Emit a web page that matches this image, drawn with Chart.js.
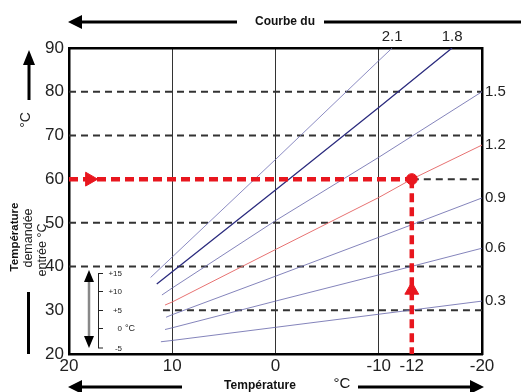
<!DOCTYPE html>
<html>
<head>
<meta charset="utf-8">
<script src="https://cdn.jsdelivr.net/npm/chart.js@4.4.1/dist/chart.umd.min.js"></script>
<style>
  html, body { margin: 0; padding: 0; background: #fff; }
  #wrap { width: 521px; height: 392px; }
</style>
</head>
<body>
<div id="wrap"><canvas id="chart" width="521" height="392"></canvas></div>
<script>
// outdoor temperature axis (reversed: 20 on the left, -20 on the right)
const xTicks = [20, 10, 0, -10, -13.2, -20];
const xTickLabels = ['20', '10', '0', '-10', '-12', '-20'];
const yTicks = [20, 30, 40, 50, 60, 70, 80, 90];

// heating curves: [outdoor temp, flow temp]
const curve21 = [[12.1, 37.5], [10, 42.2], [0, 64.5], [-10, 87.1], [-11.3, 90]];
const curve18 = [[11.5, 36.0], [10, 38.8], [0, 57.5], [-10, 76.4], [-17.1, 90]];
const curve15 = [[11.0, 33.5], [10, 35.1], [0, 50.5], [-10, 65.0], [-20, 80.0]];
const curve12 = [[10.7, 31.2], [10, 31.9], [0, 43.9], [-10, 55.8], [-13.2, 60], [-20, 67.8]];
const curve09 = [[10.6, 28.4], [10, 29.0], [0, 37.8], [-10, 46.7], [-20, 55.7]];
const curve06 = [[10.7, 25.6], [10, 26.0], [0, 32.1], [-10, 38.1], [-20, 44.2]];
const curve03 = [[11.1, 22.8], [10, 23.1], [0, 26.1], [-10, 29.1], [-20, 32.1]];

// curve labels on the right edge and on the top edge
const rightLabels = ['1.5', '1.2', '0.9', '0.6', '0.3'];
const rightValues = [80.0, 67.8, 55.7, 44.2, 32.1];
const topLabels = ['2.1', '1.8'];
const topValues = [-11.3, -17.1];

// example reading: outdoor -12 °C -> flow 60 °C
const markX = -13.2;
const markY = 60;
const fullDashed = [80, 70, 50, 40];

const pts = a => a.map(p => ({ x: p[0], y: p[1] }));
const FONT = "'Liberation Sans', Arial, Helvetica, sans-serif";

function curve(data, color, width) {
  return { data: pts(data), borderColor: color, borderWidth: width, showLine: true, pointRadius: 0, order: 5 };
}
function dashed(data) {
  return { data: pts(data), borderColor: '#333', borderWidth: 2, borderDash: [7, 5], showLine: true, pointRadius: 0, order: 6 };
}

const datasets = [
  // red example reading
  { data: pts([[20, markY], [markX, markY]]), borderColor: '#e8161e', borderWidth: 4.5, borderDash: [9, 5], showLine: true, pointRadius: 0, order: 1 },
  { data: pts([[markX, markY], [markX, 20]]), borderColor: '#e8161e', borderWidth: 4.5, borderDash: [9, 5], showLine: true, pointRadius: 0, order: 1 },
  { data: pts([[markX, markY]]), backgroundColor: '#e8161e', borderColor: '#e8161e', pointRadius: 5.5, order: 0 },
  { data: pts([[18, markY]]), pointStyle: 'triangle', rotation: 90, backgroundColor: '#e8161e', borderColor: '#e8161e', pointRadius: 8, order: 0 },
  { data: pts([[markX, 34.6]]), pointStyle: 'triangle', rotation: 0, backgroundColor: '#e8161e', borderColor: '#e8161e', pointRadius: 8, order: 0 },
  // curves
  curve(curve21, 'rgba(120,120,185,0.85)', 1),
  curve(curve18, '#2b2b7e', 1.3),
  curve(curve15, 'rgba(110,110,175,0.85)', 1),
  curve(curve12, '#e77272', 1),
  curve(curve09, 'rgba(110,110,175,0.85)', 1),
  curve(curve06, 'rgba(110,110,175,0.85)', 1),
  curve(curve03, 'rgba(110,110,175,0.85)', 1),
  // black dashed reference lines
  ...fullDashed.map(v => dashed([[20, v], [-20, v]])),
  dashed([[10.9, 30], [-20, 30]]),
  dashed([[markX, markY], [-20, markY]]),
];

function arrow(ctx, x1, y1, x2, y2, len, half, color, w) {
  const a = Math.atan2(y2 - y1, x2 - x1);
  ctx.strokeStyle = color;
  ctx.lineWidth = w;
  ctx.beginPath();
  ctx.moveTo(x1, y1);
  ctx.lineTo(x2 - Math.cos(a) * len * 0.8, y2 - Math.sin(a) * len * 0.8);
  ctx.stroke();
  ctx.fillStyle = color;
  ctx.beginPath();
  ctx.moveTo(x2, y2);
  ctx.lineTo(x2 - Math.cos(a) * len - Math.sin(a) * half, y2 - Math.sin(a) * len + Math.cos(a) * half);
  ctx.lineTo(x2 - Math.cos(a) * len + Math.sin(a) * half, y2 - Math.sin(a) * len - Math.cos(a) * half);
  ctx.closePath();
  ctx.fill();
}

function vText(ctx, text, x, y, font) {
  ctx.save();
  ctx.translate(x, y);
  ctx.rotate(-Math.PI / 2);
  ctx.font = font;
  ctx.textAlign = 'center';
  ctx.textBaseline = 'middle';
  ctx.fillText(text, 0, 0);
  ctx.restore();
}

const decorations = {
  id: 'decorations',
  afterDraw(chart) {
    const ctx = chart.ctx;
    ctx.save();
    // header
    arrow(ctx, 237, 22, 68, 22, 14, 7, '#000', 3);
    ctx.fillStyle = '#111';
    ctx.font = 'bold 12px ' + FONT;
    ctx.textAlign = 'center';
    ctx.textBaseline = 'middle';
    ctx.fillText('Courbe du', 285, 22);
    ctx.strokeStyle = '#000';
    ctx.lineWidth = 3;
    ctx.beginPath();
    ctx.moveTo(324, 22);
    ctx.lineTo(521, 22);
    ctx.stroke();

    // left side
    arrow(ctx, 29, 100, 29, 50, 15, 6, '#000', 3);
    ctx.fillStyle = '#222';
    vText(ctx, '°C', 26, 120, '14px ' + FONT);
    ctx.fillStyle = '#111';
    vText(ctx, 'Température', 15, 237, 'bold 11.5px ' + FONT);
    ctx.fillStyle = '#222';
    vText(ctx, 'demandée', 29, 238, '12.5px ' + FONT);
    vText(ctx, 'entrée °C', 43, 250, '12.5px ' + FONT);
    ctx.fillStyle = '#000';
    ctx.fillRect(27, 292, 3, 62);

    // bottom
    arrow(ctx, 182, 387, 68, 387, 14, 7, '#000', 3);
    arrow(ctx, 358, 387, 484, 387, 14, 7, '#000', 3);
    ctx.fillStyle = '#111';
    ctx.font = 'bold 12px ' + FONT;
    ctx.textAlign = 'center';
    ctx.textBaseline = 'middle';
    ctx.fillText('Température', 260, 386);
    ctx.font = '15px ' + FONT;
    ctx.fillText('°C', 342, 384);

    // inset offset scale
    ctx.strokeStyle = '#888';
    ctx.lineWidth = 2.5;
    ctx.beginPath();
    ctx.moveTo(89, 278);
    ctx.lineTo(89, 340);
    ctx.stroke();
    ctx.fillStyle = '#000';
    ctx.beginPath();
    ctx.moveTo(89, 270); ctx.lineTo(84, 282); ctx.lineTo(94, 282); ctx.closePath(); ctx.fill();
    ctx.beginPath();
    ctx.moveTo(89, 348); ctx.lineTo(84, 336); ctx.lineTo(94, 336); ctx.closePath(); ctx.fill();
    ctx.strokeStyle = '#222';
    ctx.lineWidth = 1;
    ctx.beginPath();
    ctx.moveTo(98.5, 273); ctx.lineTo(98.5, 348);
    const insetY = [273, 291, 310, 328, 347.5];
    const insetL = ['+15', '+10', '+5', '0', '-5'];
    insetY.forEach(y => { ctx.moveTo(98, y + 0.5); ctx.lineTo(103, y + 0.5); });
    ctx.stroke();
    ctx.fillStyle = '#222';
    ctx.font = '8px ' + FONT;
    ctx.textAlign = 'right';
    ctx.textBaseline = 'middle';
    insetY.forEach((y, i) => ctx.fillText(insetL[i], 122, y + 1));
    ctx.textAlign = 'left';
    ctx.font = '9px ' + FONT;
    ctx.fillText('°C', 125, 329);
    ctx.restore();
  },
};

const fixedTicks = values => scale => { scale.ticks = values.map(v => ({ value: v })); };

new Chart(document.getElementById('chart'), {
  type: 'scatter',
  data: { datasets },
  options: {
    responsive: false,
    animation: false,
    layout: { padding: { left: 0, right: 0, top: 30, bottom: 14 } },
    plugins: { legend: { display: false }, tooltip: { enabled: false } },
    scales: {
      x: {
        type: 'linear', reverse: true, min: -20, max: 20,
        afterBuildTicks: fixedTicks(xTicks),
        afterFit: s => { s.height = 24; },
        ticks: {
          color: '#222', font: { family: FONT, size: 17 }, padding: 2, maxRotation: 0, autoSkip: false,
          callback: (v, i) => xTickLabels[i],
        },
        grid: {
          drawTicks: false,
          color: c => (c.tick && [10, 0, -10].includes(c.tick.value) ? '#333' : 'rgba(0,0,0,0)'),
          lineWidth: 1,
        },
        border: { display: true, color: '#000', width: 2.5 },
      },
      x2: {
        type: 'linear', position: 'top', reverse: true, min: -20, max: 20,
        afterBuildTicks: fixedTicks(topValues),
        afterFit: s => { s.height = 18; },
        ticks: {
          color: '#222', font: { family: FONT, size: 15 }, padding: 2, maxRotation: 0, autoSkip: false,
          callback: (v, i) => topLabels[i],
        },
        grid: { display: false, drawTicks: false },
        border: { display: true, color: '#000', width: 2.5 },
      },
      y: {
        min: 20, max: 90,
        afterBuildTicks: fixedTicks(yTicks),
        afterFit: s => { s.width = 69; },
        ticks: { color: '#222', font: { family: FONT, size: 17 }, padding: 5, autoSkip: false },
        grid: { display: false, drawTicks: false },
        border: { display: true, color: '#000', width: 2.5 },
      },
      y2: {
        position: 'right', min: 20, max: 90,
        afterBuildTicks: fixedTicks(rightValues),
        afterFit: s => { s.width = 39; },
        ticks: {
          color: '#222', font: { family: FONT, size: 15 }, padding: 3, autoSkip: false,
          callback: (v, i) => rightLabels[i],
        },
        grid: { display: false, drawTicks: false },
        border: { display: true, color: '#000', width: 2.5 },
      },
    },
  },
  plugins: [decorations],
});
</script>
</body>
</html>
